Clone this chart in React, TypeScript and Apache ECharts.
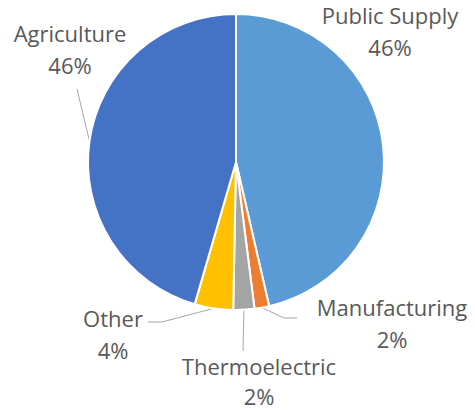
import React, { useEffect, useRef } from "react";
import * as echarts from "echarts";

const categories = ["Public Supply", "Manufacturing", "Thermoelectric", "Other", "Agriculture"];
const values = [46.4, 1.6, 2.3, 4.2, 45.5];
const colors = ["#5B9BD5", "#ED7D31", "#A5A5A5", "#FFC000", "#4472C4"];

// label anchor (block centre) and leader-line bend/end, in chart pixels
const labelPos: number[][] = [
  [390, 31],
  [392, 323],
  [259, 381],
  [113, 334],
  [70, 49],
];
const labelLineHeights = [32, 32, 30, 32, 32];
const leaderBends: (number[][] | null)[] = [
  null,
  [[284, 318], [297, 318]],
  [[243, 351], [243, 351]],
  [[162, 322], [148, 322]],
  [[77, 89], [77, 89]],
];

export default function App() {
  const ref = useRef<HTMLDivElement>(null);
  useEffect(() => {
    if (!ref.current) return;
    const chart = echarts.init(ref.current, undefined, { renderer: "svg" });
    chart.setOption({
      animation: false,
      backgroundColor: "#ffffff",
      series: [
        {
          type: "pie",
          center: [236, 162],
          radius: 148,
          startAngle: 90,
          clockwise: true,
          avoidLabelOverlap: false,
          itemStyle: { borderColor: "#ffffff", borderWidth: 2 },
          label: {
            show: true,
            position: "outside",
            color: "#595959",
            fontFamily: "Open Sans",
            fontSize: 22,
            lineHeight: 32,
            formatter: (p: any) => `${p.name}\n${Math.round(p.percent)}%`,
          },
          labelLine: {
            show: true,
            length: 10,
            length2: 10,
            lineStyle: { color: "#A6A6A6", width: 1 },
          },
          labelLayout: (params: any) => {
            const i = params.dataIndex;
            const res: any = {
              x: labelPos[i][0],
              y: labelPos[i][1],
              align: "center",
              verticalAlign: "middle",
            };
            const b = leaderBends[i];
            if (b && params.labelLinePoints) {
              res.labelLinePoints = [params.labelLinePoints[0], b[0], b[1]];
            }
            return res;
          },
          data: categories.map((name, i) => ({
            name,
            value: values[i],
            itemStyle: { color: colors[i] },
            label: { lineHeight: labelLineHeights[i] },
            labelLine: { show: leaderBends[i] !== null },
          })),
        },
      ],
    });
    return () => chart.dispose();
  }, []);
  return (
    <div
      ref={ref}
      style={{ position: "absolute", left: 0, top: 0, width: 475, height: 410 }}
    />
  );
}
